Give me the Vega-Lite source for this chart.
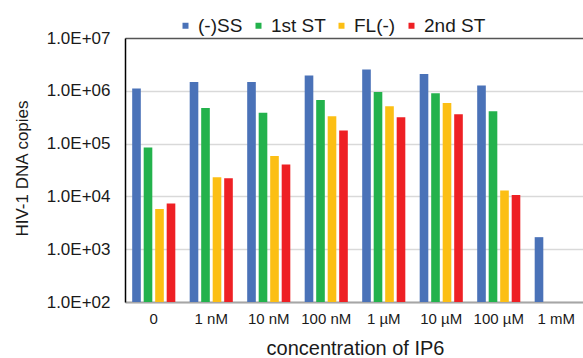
{
  "$schema": "https://vega.github.io/schema/vega-lite/v6.json",
  "width": 460,
  "height": 264,
  "padding": {"left": 12, "top": 16, "right": 0, "bottom": 0},
  "background": "white",
  "config": {
    "font": "Liberation Sans",
    "view": {"stroke": null}
  },
  "data": {
    "values": [
      {"conc": "0", "series": "(-)SS", "copies": 1110000},
      {"conc": "0", "series": "1st ST", "copies": 84000},
      {"conc": "0", "series": "FL(-)", "copies": 5800},
      {"conc": "0", "series": "2nd ST", "copies": 7300},
      {"conc": "1 nM", "series": "(-)SS", "copies": 1460000},
      {"conc": "1 nM", "series": "1st ST", "copies": 470000},
      {"conc": "1 nM", "series": "FL(-)", "copies": 23000},
      {"conc": "1 nM", "series": "2nd ST", "copies": 22000},
      {"conc": "10 nM", "series": "(-)SS", "copies": 1460000},
      {"conc": "10 nM", "series": "1st ST", "copies": 385000},
      {"conc": "10 nM", "series": "FL(-)", "copies": 58000},
      {"conc": "10 nM", "series": "2nd ST", "copies": 40000},
      {"conc": "100 nM", "series": "(-)SS", "copies": 1950000},
      {"conc": "100 nM", "series": "1st ST", "copies": 670000},
      {"conc": "100 nM", "series": "FL(-)", "copies": 330000},
      {"conc": "100 nM", "series": "2nd ST", "copies": 178000},
      {"conc": "1 µM", "series": "(-)SS", "copies": 2530000},
      {"conc": "1 µM", "series": "1st ST", "copies": 950000},
      {"conc": "1 µM", "series": "FL(-)", "copies": 510000},
      {"conc": "1 µM", "series": "2nd ST", "copies": 315000},
      {"conc": "10 µM", "series": "(-)SS", "copies": 2070000},
      {"conc": "10 µM", "series": "1st ST", "copies": 900000},
      {"conc": "10 µM", "series": "FL(-)", "copies": 590000},
      {"conc": "10 µM", "series": "2nd ST", "copies": 360000},
      {"conc": "100 µM", "series": "(-)SS", "copies": 1260000},
      {"conc": "100 µM", "series": "1st ST", "copies": 410000},
      {"conc": "100 µM", "series": "FL(-)", "copies": 12900},
      {"conc": "100 µM", "series": "2nd ST", "copies": 10600},
      {"conc": "1 mM", "series": "(-)SS", "copies": 1690},
      {"conc": "1 mM", "series": "1st ST", "copies": 100},
      {"conc": "1 mM", "series": "FL(-)", "copies": 100},
      {"conc": "1 mM", "series": "2nd ST", "copies": 100}
    ]
  },
  "mark": {"type": "bar"},
  "encoding": {
    "x": {
      "field": "conc",
      "type": "nominal",
      "sort": null,
      "scale": {"paddingInner": 0.25, "paddingOuter": 0.125},
      "axis": {
        "title": "concentration of IP6",
        "labelAngle": 0,
        "labelFontSize": 15,
        "labelColor": "#1a1a1a",
        "labelPadding": 9,
        "ticks": false,
        "tickSize": 0,
        "domainColor": "#a6a6a6",
        "domainWidth": 2,
        "titleFontSize": 20,
        "titleFontWeight": "normal",
        "titleColor": "#1a1a1a",
        "titleY": 52,
        "titleBaseline": "alphabetic"
      }
    },
    "xOffset": {
      "field": "series",
      "type": "nominal",
      "sort": ["(-)SS", "1st ST", "FL(-)", "2nd ST"],
      "scale": {"paddingInner": 0.25}
    },
    "y": {
      "field": "copies",
      "type": "quantitative",
      "stack": null,
      "scale": {"type": "log", "domain": [100, 10000000]},
      "axis": {
        "title": "HIV-1 DNA copies",
        "values": [100, 1000, 10000, 100000, 1000000, 10000000],
        "labelExpr": "'1.0E+0' + round(log(datum.value) / LN10)",
        "labelFontSize": 17,
        "labelColor": "#1a1a1a",
        "labelPadding": 15,
        "ticks": false,
        "tickSize": 0,
        "domainColor": "#000000",
        "domainWidth": 1.5,
        "grid": true,
        "gridColor": {"condition": {"test": "datum.value >= 10000000", "value": "#555555"}, "value": "#d9d9d9"},
        "gridWidth": 1.5,
        "titleFontSize": 17,
        "titleFontWeight": "normal",
        "titleColor": "#1a1a1a",
        "titleAngle": -90,
        "titleX": -103,
        "titleY": 130,
        "titleAlign": "center",
        "titleBaseline": "middle"
      }
    },
    "color": {
      "field": "series",
      "type": "nominal",
      "scale": {
        "domain": ["(-)SS", "1st ST", "FL(-)", "2nd ST"],
        "range": ["#4a72b8", "#23b24c", "#fcbf14", "#ee2024"]
      },
      "legend": {
        "title": null,
        "orient": "none",
        "direction": "horizontal",
        "legendX": 51,
        "legendY": -22,
        "symbolType": "square",
        "symbolSize": 36,
        "symbolStrokeWidth": 0,
        "labelFontSize": 19,
        "labelColor": "#1a1a1a",
        "labelOffset": 3,
        "columnPadding": 6,
        "padding": 0
      }
    }
  }
}
